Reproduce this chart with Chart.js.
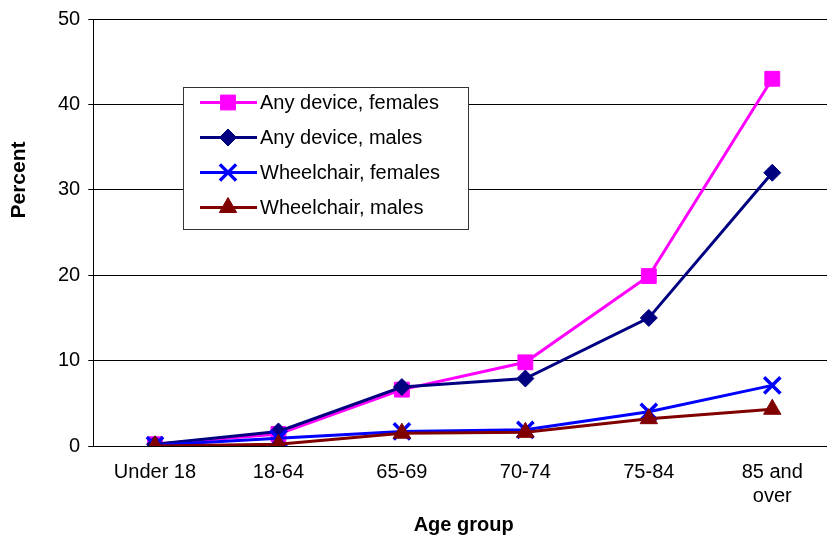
<!DOCTYPE html>
<html><head><meta charset="utf-8">
<script src="https://cdn.jsdelivr.net/npm/chart.js@4.4.0/dist/chart.umd.min.js"></script>
<style>html,body{margin:0;padding:0;overflow:hidden;background:#fff}
#wrap{position:relative;width:835px;height:535px}</style>
</head><body><div id="wrap"><canvas id="c" width="835" height="535"></canvas></div>
<script>
const categories = ['Under 18', '18-64', '65-69', '70-74', '75-84', ['85 and', 'over']];
const anyDeviceFemales = [0.2, 1.4, 6.6, 9.8, 19.9, 43.0];
const anyDeviceMales = [0.2, 1.7, 6.9, 7.9, 15.0, 32.0];
const wheelchairFemales = [0.1, 0.9, 1.7, 1.9, 4.0, 7.1];
const wheelchairMales = [0.0, 0.2, 1.5, 1.6, 3.2, 4.3];
const seriesNames = ['Any device, females', 'Any device, males', 'Wheelchair, females', 'Wheelchair, males'];
const yTitle = 'Percent';
const xTitle = 'Age group';

const FONT = "'Liberation Sans', Arial, sans-serif";

const datasets = [
  {label: seriesNames[0], data: anyDeviceFemales, borderColor: '#FF00FF', backgroundColor: '#FF00FF',
   pointStyle: 'rect', pointRadius: 10.5, pointBorderWidth: 1, borderWidth: 3, order: 4},
  {label: seriesNames[1], data: anyDeviceMales, borderColor: '#000080', backgroundColor: '#000080',
   pointStyle: 'rectRot', pointRadius: 8.5, pointBorderWidth: 1, borderWidth: 3, order: 3},
  {label: seriesNames[2], data: wheelchairFemales, borderColor: '#0000FF', backgroundColor: '#0000FF',
   pointStyle: 'crossRot', pointRadius: 11.5, pointBorderWidth: 3.5, borderWidth: 3, order: 2},
  {label: seriesNames[3], data: wheelchairMales, borderColor: '#800000', backgroundColor: '#800000',
   pointStyle: 'triangle', pointRadius: 10, pointBorderWidth: 1, borderWidth: 3, order: 1}
];
datasets.forEach(d => { d.tension = 0; d.fill = false; d.pointHoverRadius = d.pointRadius; });

const legendPlugin = {
  id: 'boxLegend',
  afterDraw(chart) {
    const ctx = chart.ctx;
    ctx.save();
    // y title
    ctx.save();
    ctx.translate(19, 180);
    ctx.rotate(-Math.PI / 2);
    ctx.font = 'bold 21px ' + FONT;
    ctx.fillStyle = '#000';
    ctx.textAlign = 'center';
    ctx.textBaseline = 'middle';
    ctx.fillText(yTitle, 0, 0);
    ctx.restore();
    // legend box
    const bx = 183.5, by = 87.5, bw = 285, bh = 142;
    ctx.fillStyle = '#fff';
    ctx.fillRect(bx, by, bw, bh);
    ctx.strokeStyle = '#333';
    ctx.lineWidth = 1;
    ctx.strokeRect(bx, by, bw, bh);
    const ds = chart.data.datasets;
    for (let i = 0; i < ds.length; i++) {
      const d = ds[i];
      const y = 102.5 + i * 35;
      ctx.strokeStyle = d.borderColor;
      ctx.lineWidth = 3;
      ctx.beginPath();
      ctx.moveTo(200, y);
      ctx.lineTo(257, y);
      ctx.stroke();
      const opts = {pointStyle: d.pointStyle, radius: d.pointRadius, rotation: 0, borderWidth: d.pointBorderWidth};
      ctx.fillStyle = d.backgroundColor;
      ctx.strokeStyle = d.borderColor;
      ctx.lineWidth = d.pointBorderWidth;
      Chart.helpers.drawPoint(ctx, opts, 228, y);
      ctx.fillStyle = '#000';
      ctx.font = '20px ' + FONT;
      ctx.textAlign = 'left';
      ctx.textBaseline = 'middle';
      ctx.fillText(d.label, 260, y + 1);
    }
    ctx.restore();
  }
};

new Chart(document.getElementById('c'), {
  type: 'line',
  data: {labels: categories, datasets: datasets},
  plugins: [legendPlugin],
  options: {
    responsive: false,
    animation: false,
    layout: {autoPadding: false, padding: {left: 50, right: 1, top: 18, bottom: 0}},
    plugins: {legend: {display: false}, tooltip: {enabled: false}},
    scales: {
      x: {
        offset: true,
        grid: {display: false, drawTicks: false},
        border: {display: true, color: '#000', width: 1},
        ticks: {color: '#000', font: {family: FONT, size: 20, lineHeight: 1.2}, padding: 14, maxRotation: 0, autoSkip: false},
        title: {display: true, text: xTitle, color: '#000', font: {family: FONT, size: 20, weight: 'bold', lineHeight: 1}, padding: {top: -7, bottom: 0}}
      },
      y: {
        min: 0, max: 50,
        grid: {color: '#000', lineWidth: 1, tickLength: 5, drawTicks: true},
        border: {display: true, color: '#000', width: 1},
        ticks: {stepSize: 10, color: '#000', font: {family: FONT, size: 20, lineHeight: 1.1}, padding: 8}
      }
    }
  }
});
</script></body></html>
